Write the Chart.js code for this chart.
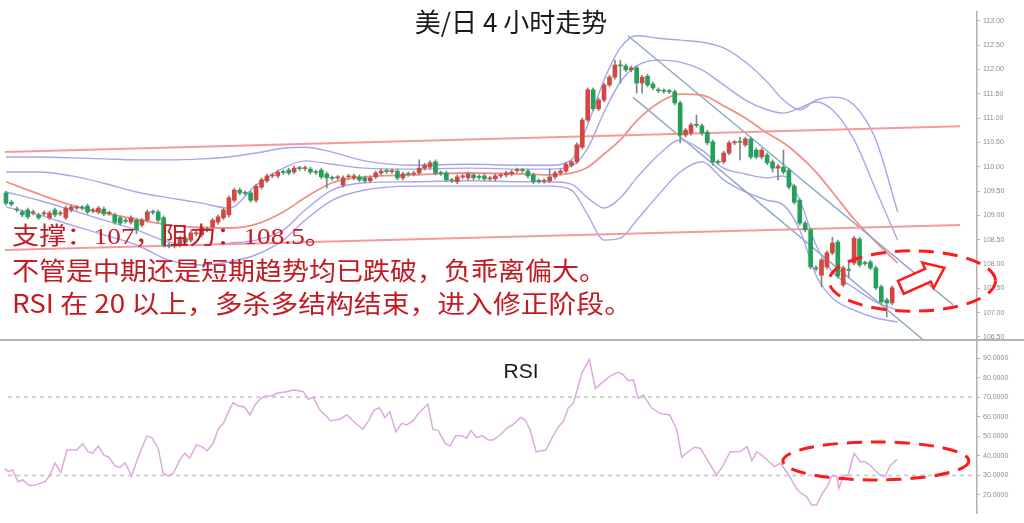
<!DOCTYPE html>
<html>
<head>
<meta charset="utf-8">
<script src="https://cdn.jsdelivr.net/npm/chart.js@4.4.1/dist/chart.umd.min.js"></script>
<style>
html, body { margin: 0; padding: 0; background: #ffffff; }
#wrap { position: relative; width: 1024px; height: 523px; overflow: hidden; }
.pane { position: absolute; left: 0; width: 1024px; }
</style>
</head>
<body>
<div id="wrap">
  <div class="pane" style="top:0;height:341px"><canvas id="chart-price"></canvas></div>
  <div class="pane" style="top:341px;height:182px"><canvas id="chart-rsi"></canvas></div>
</div>
<script>
/**
 * USD/JPY 4h chart - candles, bands, RSI
 */
const opens = [109.46,109.27,109.13,109.07,109.11,109.05,109.01,109.03,108.95,109.11,109.03,108.95,109.11,109.15,109.16,109.19,109.09,109.07,109.13,109.04,
  109.01,108.95,108.90,108.86,108.90,108.80,108.90,109.07,109.07,108.95,108.39,108.37,108.39,108.53,108.49,108.62,108.60,108.72,108.76,108.86,
  108.95,109.01,109.31,109.52,109.46,109.46,109.31,109.58,109.71,109.81,109.81,109.89,109.93,109.89,109.97,109.96,109.95,109.89,109.93,109.85,
  109.77,109.77,109.62,109.79,109.77,109.79,109.77,109.71,109.79,109.87,109.91,109.90,109.91,109.77,109.85,109.85,109.87,109.97,109.99,110.10,
  109.87,109.87,109.72,109.69,109.79,109.77,109.83,109.79,109.81,109.75,109.75,109.81,109.83,109.85,109.92,109.93,109.91,109.83,109.71,109.70,
  109.71,109.79,109.87,109.91,110.03,110.10,110.40,110.96,111.58,111.19,111.37,111.68,111.84,112.09,112.07,111.99,112.03,111.72,111.86,111.70,
  111.58,111.56,111.55,111.54,111.31,110.65,110.69,110.86,110.84,110.71,110.51,110.10,110.10,110.28,110.49,110.51,110.45,110.57,110.34,110.20,
  110.24,110.10,109.97,109.99,109.93,109.60,109.31,108.84,108.70,107.92,107.77,107.94,108.23,108.45,107.57,107.88,108.02,108.51,108.02,108.04,
  107.92,107.53,107.26,107.20];
const closes = [109.25,109.23,109.11,109.01,108.97,109.07,108.95,109.05,109.05,109.01,109.05,109.15,109.17,109.16,109.15,109.07,109.11,109.15,109.03,109.05,
  108.86,108.84,108.88,108.95,108.70,108.90,109.07,109.06,108.90,108.39,108.37,108.39,108.53,108.45,108.64,108.64,108.74,108.70,108.90,108.97,
  109.11,109.36,109.52,109.46,109.45,109.31,109.60,109.73,109.81,109.83,109.89,109.88,109.87,109.97,109.96,109.97,109.89,109.88,109.79,109.77,
  109.76,109.78,109.77,109.80,109.81,109.73,109.71,109.77,109.87,109.91,109.90,109.91,109.77,109.85,109.84,109.87,109.97,110.03,110.08,109.87,
  109.86,109.73,109.71,109.79,109.80,109.85,109.77,109.78,109.75,109.76,109.81,109.83,109.87,109.89,109.93,109.92,109.81,109.69,109.70,109.71,
  109.79,109.87,109.91,110.05,110.10,110.45,110.96,111.58,111.19,111.37,111.68,111.84,112.09,112.07,111.99,112.03,111.72,111.84,111.68,111.62,
  111.56,111.55,111.54,111.31,110.65,110.75,110.86,110.85,110.69,110.49,110.10,110.09,110.28,110.49,110.50,110.50,110.57,110.20,110.20,110.34,
  110.08,109.97,110.01,109.89,109.58,109.27,108.84,108.70,107.94,107.90,108.08,108.23,108.43,107.75,107.92,107.87,108.53,107.98,108.01,107.92,
  107.51,107.22,107.20,107.51];
const highs = [109.50,109.31,109.17,109.11,109.15,109.11,109.05,109.09,109.09,109.15,109.09,109.19,109.21,109.20,109.20,109.23,109.15,109.19,109.17,109.09,
  109.05,108.99,108.94,108.99,108.94,108.94,109.11,109.11,109.11,108.99,108.43,108.43,108.57,108.57,108.68,108.68,108.78,108.76,108.94,109.01,
  109.15,109.40,109.56,109.56,109.50,109.50,109.64,109.77,109.85,109.87,109.93,109.93,109.97,110.01,110.01,110.01,109.99,109.93,109.97,109.89,
  109.81,109.82,109.81,109.84,109.85,109.83,109.81,109.81,109.91,109.95,109.95,109.95,109.95,109.89,109.89,109.91,110.14,110.07,110.12,110.14,
  109.91,109.91,109.76,109.83,109.84,109.89,109.87,109.83,109.85,109.80,109.85,109.87,109.91,109.93,109.97,109.97,109.95,109.87,109.75,109.75,
  109.95,109.91,109.95,110.09,110.14,110.49,111.00,111.62,111.62,111.41,111.72,111.88,112.19,112.19,112.11,112.07,112.07,111.88,111.90,111.74,
  111.62,111.60,111.59,111.58,111.35,110.79,110.90,111.06,110.88,110.75,110.55,110.14,110.32,110.53,110.54,110.61,110.61,110.61,110.38,110.38,
  110.28,110.14,110.05,110.34,109.97,109.64,109.35,108.88,108.74,107.96,108.12,108.27,108.55,108.49,107.96,108.02,108.57,108.55,108.06,108.08,
  107.96,107.57,107.30,107.55];
const lows = [109.21,109.19,109.07,108.97,108.93,109.01,108.91,108.99,108.91,108.97,108.99,108.91,109.07,109.11,109.11,109.03,109.05,109.03,108.99,109.00,
  108.82,108.80,108.84,108.82,108.62,108.76,108.86,109.02,108.86,108.35,108.33,108.33,108.35,108.41,108.45,108.58,108.56,108.66,108.72,108.82,
  108.91,108.97,109.27,109.42,109.41,109.27,109.27,109.54,109.67,109.77,109.77,109.84,109.83,109.85,109.92,109.92,109.85,109.84,109.75,109.56,
  109.72,109.73,109.58,109.75,109.73,109.69,109.67,109.67,109.75,109.83,109.86,109.86,109.73,109.73,109.80,109.81,109.83,109.93,109.95,109.83,
  109.82,109.69,109.67,109.65,109.75,109.73,109.73,109.74,109.71,109.71,109.71,109.77,109.79,109.81,109.88,109.88,109.77,109.65,109.66,109.66,
  109.67,109.75,109.83,109.87,109.99,110.06,110.36,110.92,111.15,111.15,111.33,111.64,111.80,111.72,111.95,111.95,111.51,111.51,111.64,111.58,
  111.52,111.51,111.50,111.27,110.49,110.61,110.65,110.81,110.65,110.45,110.03,110.05,110.06,110.24,110.45,110.14,110.41,110.16,110.16,110.16,
  110.04,109.89,109.73,109.85,109.54,109.23,108.80,108.66,107.90,107.86,107.53,107.90,108.19,107.71,107.53,107.73,107.98,107.94,107.97,107.88,
  107.47,107.18,106.91,107.16];

// bands: shared candle positions, outer/inner upper, middle average, inner/outer lower
const bandIdx = [0, 6, 12, 18, 24, 30, 36, 41, 46, 51, 55, 60, 66, 75, 85, 95, 100, 104, 107, 110, 113, 116, 120, 124, 128, 132, 136, 140, 143, 146, 149, 152, 156, 160, 164];
const upperOuter = [110.20,110.20,110.18,110.16,110.14,110.14,110.16,110.20,110.28,110.38,110.40,110.30,110.12,110.03,110.05,110.03,110.03,110.14,110.86,111.78,
  112.44,112.69,112.64,112.60,112.56,112.44,112.15,111.74,111.37,111.17,111.37,111.43,111.27,110.55,109.07];
const upperInner = [109.89,109.89,109.81,109.66,109.48,109.36,109.25,109.15,109.62,109.97,110.12,110.05,109.97,109.95,109.97,109.95,109.95,110.01,110.38,111.12,
  111.74,112.07,112.19,112.15,111.99,111.68,111.37,111.17,111.10,111.21,111.33,111.17,110.55,109.52,108.49];
const midAvg = [109.69,109.44,109.21,109.05,108.92,108.80,108.75,108.74,108.82,109.07,109.36,109.67,109.79,109.83,109.87,109.85,109.83,109.87,109.99,110.26,
  110.55,110.94,111.31,111.49,111.47,111.25,111.00,110.69,110.49,110.22,109.89,109.48,108.92,108.45,108.02];
const lowerInner = [109.48,109.31,109.11,108.90,108.70,108.45,108.39,108.43,108.49,108.70,109.11,109.52,109.67,109.69,109.71,109.69,109.69,109.64,109.36,109.15,
  109.36,109.77,110.24,110.55,110.34,109.97,109.85,109.77,109.81,109.31,108.39,107.84,107.51,107.22,107.05];
const lowerOuter = [109.17,109.01,108.80,108.60,108.39,108.08,107.98,108.04,108.19,108.49,108.90,109.31,109.52,109.60,109.60,109.60,109.60,109.52,109.01,108.49,
  108.53,108.90,109.42,109.89,110.10,109.73,109.48,109.31,109.21,108.70,107.77,107.30,107.05,106.89,106.81];

// trend lines, each [start, end]
const channelIdx = [-0.2, 175.5];
const channelTop = [110.30, 110.83];
const channelBottom = [108.29, 108.80];
const downTopIdx = [114.4, 174.2];
const downTopVal = [112.69, 107.16];
const downLowIdx = [115.3, 168.7];
const downLowVal = [111.43, 106.44];

const rsiIdx = [-0.2,0.4,1.2,2.2,3.1,4.1,5.0,7.2,8.1,9.0,10.1,11.2,13.0,14.1,15.1,15.9,17.0,18.0,18.9,20.1,
  21.0,21.9,23.1,24.3,25.9,26.8,28.0,28.9,29.9,30.8,32.0,32.9,33.8,35.0,36.0,37.0,38.1,39.1,40.0,41.2,
  41.8,42.7,43.8,44.9,45.8,46.7,47.6,48.9,49.8,51.6,52.9,53.8,54.7,55.6,56.5,57.8,58.7,59.7,61.4,62.7,
  64.2,65.6,66.6,67.7,68.7,69.7,70.6,71.7,72.8,73.7,74.9,75.8,77.6,78.5,79.5,80.8,81.7,82.7,83.8,84.7,
  85.5,86.6,87.6,88.7,89.6,90.9,92.1,93.3,94.7,95.5,96.4,97.5,99.3,100.4,101.6,102.5,103.4,104.4,105.9,107.3,
  108.4,109.9,111.1,112.5,113.4,114.5,115.4,116.3,117.2,118.8,120.3,122.1,123.4,124.3,125.5,126.6,127.7,129.2,130.7,131.8,
  133.2,135.0,136.3,137.2,138.1,139.0,141.3,142.4,143.6,144.5,145.5,146.4,147.3,148.2,149.1,150.1,151.0,151.9,152.8,153.2,
  154.0,154.9,156.0,157.1,158.0,158.9,159.9,160.8,161.7,162.6,163.9];
const rsiVal = [33.6,31.9,32.8,26.8,27.7,25.1,24.8,26.8,30.2,36.4,31.4,43.0,43.0,46.1,42.1,41.3,45.0,40.4,39.3,34.8,
  34.2,36.5,29.7,39.3,50.1,49.3,43.9,31.1,29.7,31.1,38.2,41.3,38.8,45.6,44.7,42.6,46.4,54.1,56.6,64.3,
  67.2,65.5,65.1,60.9,66.0,68.9,70.6,70.6,72.0,72.8,73.7,73.3,72.8,68.9,69.9,63.1,60.9,58.0,58.7,60.9,
  56.9,53.7,57.5,63.4,64.6,59.5,62.6,52.3,56.6,55.8,58.0,61.4,66.5,53.6,52.9,46.4,45.0,50.3,50.3,49.0,
  52.9,49.3,50.3,48.1,48.1,50.7,54.1,56.1,59.7,58.3,53.2,42.1,43.0,49.0,54.9,57.5,64.3,67.2,82.2,89.3,
  74.5,77.9,80.8,82.7,81.7,78.4,78.8,69.4,71.1,64.3,61.7,60.9,53.2,39.3,42.1,44.4,43.9,37.0,30.2,34.5,
  42.1,42.1,44.7,37.5,42.1,40.4,34.5,36.2,31.9,27.7,22.9,20.5,19.1,14.9,14.9,20.5,24.2,29.7,29.4,23.4,
  29.7,30.2,41.3,37.0,37.0,35.3,32.4,30.2,29.4,34.8,38.2];
const rsiLevels = [70, 30];
const rsiLevelIdx = [0.4, 178.2];

const titleText = '美/日 4 小时走势';
const noteLines = ['支撑：107，阻力：108.5。', '不管是中期还是短期趋势均已跌破，负乖离偏大。', 'RSI 在 20 以上，多杀多结构结束，进入修正阶段。'];

const colors = {
    up: '#d4463f',
    down: '#23a15b',
    wick: '#7d8a80',
    band: '#a9a4ee',
    avg: '#f29088',
    channel: '#f59a9a',
    trend: '#8eaac2',
    rsi: '#dcaade',
    level: '#cfcfcf',
    axis: '#b0b0b0',
    tick: '#8c8c8c',
    note: '#c41a22',
    mark: '#ff1a1a'
};

const xMin = -1.1, xMax = 178.6;

const pts = (xs, ys) => xs.map((x, i) => ({ x: x, y: ys[i] }));
const candleIdx = opens.map((_, i) => i);
const candleColors = opens.map((o, i) => closes[i] >= o ? colors.up : colors.down);

function bandSet(data, color, width) {
    return {
        type: 'line', data: data, borderColor: color, borderWidth: width,
        pointRadius: 0, cubicInterpolationMode: 'monotone', fill: false, order: 3
    };
}
function straight(data, color, width, dash) {
    return {
        type: 'line', data: data, borderColor: color, borderWidth: width,
        pointRadius: 0, tension: 0, fill: false, order: 2, borderDash: dash || []
    };
}

function rightAxis(min, max, step, digits) {
    return {
        position: 'right', min: min, max: max,
        // fixed width, no extra label padding so the plot area is exact
        afterFit: s => { s.width = 47; s.paddingTop = 0; s.paddingBottom = 0; },
        border: { color: colors.axis, width: 1.5 },
        grid: { drawOnChartArea: false, drawTicks: true, tickLength: 3, color: colors.axis },
        ticks: {
            stepSize: step, includeBounds: false, padding: 3,
            color: colors.tick, font: { family: "'Liberation Sans', Arial, sans-serif", size: 7 },
            callback: v => Number(v).toFixed(digits)
        }
    };
}

function drawEllipse(ctx, cx, cy, rx, ry) {
    ctx.save();
    ctx.strokeStyle = colors.mark;
    ctx.lineWidth = 3;
    ctx.setLineDash([15, 9]);
    ctx.beginPath();
    ctx.ellipse(cx, cy, rx, ry, 0, 0, Math.PI * 2);
    ctx.stroke();
    ctx.restore();
}

function fitText(ctx, text, x, y, width) {
    const w = ctx.measureText(text).width;
    ctx.save();
    ctx.translate(x, y);
    ctx.scale(width / w, 1);
    ctx.fillText(text, 0, 0);
    ctx.restore();
}

const priceDecor = {
    id: 'priceDecor',
    afterDraw(chart) {
        const ctx = chart.ctx;
        const xs = chart.scales.x, ys = chart.scales.y;
        // separator
        ctx.save();
        ctx.strokeStyle = '#b4b4b4';
        ctx.lineWidth = 2;
        ctx.beginPath(); ctx.moveTo(0, 340); ctx.lineTo(1024, 340); ctx.stroke();
        // title
        ctx.fillStyle = '#1a1a1a';
        ctx.font = "26px 'Noto Sans CJK SC', sans-serif";
        ctx.textAlign = 'center'; ctx.textBaseline = 'middle';
        ctx.fillText(titleText, 511, 22);
        // notes
        ctx.fillStyle = colors.note;
        ctx.textAlign = 'left';
        ctx.font = "24px 'Liberation Serif', 'Noto Sans CJK SC', serif";
        fitText(ctx, noteLines[0], 12, 238, 320);
        ctx.font = "25px 'Noto Sans CJK SC', sans-serif";
        fitText(ctx, noteLines[1], 12, 270, 594);
        fitText(ctx, noteLines[2], 12, 303, 620);
        ctx.restore();
        // ellipse + arrow
        const cx = xs.getPixelForValue(166.7), cy = ys.getPixelForValue(107.65);
        const rx = xs.getPixelForValue(166.7 + 15.3) - cx;
        const ry = cy - ys.getPixelForValue(107.65 + 0.62);
        drawEllipse(ctx, cx, cy, rx, ry);
        const tx = xs.getPixelForValue(164.6), ty = ys.getPixelForValue(107.52);
        const hx = xs.getPixelForValue(172.6), hy = ys.getPixelForValue(107.92);
        const ang = Math.atan2(hy - ty, hx - tx);
        const len = Math.hypot(hx - tx, hy - ty);
        ctx.save();
        ctx.translate(tx, ty);
        ctx.rotate(ang);
        ctx.beginPath();
        ctx.moveTo(0, -7); ctx.lineTo(len - 18, -7); ctx.lineTo(len - 18, -14);
        ctx.lineTo(len, 0); ctx.lineTo(len - 18, 14); ctx.lineTo(len - 18, 7);
        ctx.lineTo(0, 7); ctx.closePath();
        ctx.fillStyle = '#ffffff'; ctx.fill();
        ctx.strokeStyle = colors.mark; ctx.lineWidth = 2.5; ctx.stroke();
        ctx.restore();
    }
};

const rsiDecor = {
    id: 'rsiDecor',
    afterDraw(chart) {
        const ctx = chart.ctx;
        const xs = chart.scales.x, ys = chart.scales.y;
        ctx.save();
        ctx.fillStyle = '#1a1a1a';
        ctx.font = "21px 'Liberation Sans', Arial, sans-serif";
        ctx.textAlign = 'center'; ctx.textBaseline = 'middle';
        ctx.fillText('RSI', 521, 31);
        ctx.restore();
        const cx = xs.getPixelForValue(160.0), cy = ys.getPixelForValue(37.4);
        const rx = xs.getPixelForValue(160.0 + 17.1) - cx;
        const ry = cy - ys.getPixelForValue(37.4 + 9.7);
        drawEllipse(ctx, cx, cy, rx, ry);
    }
};

new Chart(document.getElementById('chart-price'), {
    type: 'bar',
    data: {
        datasets: [
            {
                data: candleIdx.map(i => ({ x: i, y: [opens[i], closes[i]] })),
                backgroundColor: candleColors, borderWidth: 0,
                barThickness: 4, minBarLength: 1, grouped: false, order: 0
            },
            {
                data: candleIdx.map(i => ({ x: i, y: [lows[i], highs[i]] })),
                backgroundColor: colors.wick, borderWidth: 0,
                barThickness: 1, grouped: false, order: 1
            },
            bandSet(pts(bandIdx, upperOuter), colors.band, 1.4),
            bandSet(pts(bandIdx, upperInner), colors.band, 1.4),
            bandSet(pts(bandIdx, midAvg), colors.avg, 1.8),
            bandSet(pts(bandIdx, lowerInner), colors.band, 1.4),
            bandSet(pts(bandIdx, lowerOuter), colors.band, 1.4),
            straight(pts(channelIdx, channelTop), colors.channel, 2),
            straight(pts(channelIdx, channelBottom), colors.channel, 2),
            straight(pts(downTopIdx, downTopVal), colors.trend, 1.4),
            straight(pts(downLowIdx, downLowVal), colors.trend, 1.4)
        ]
    },
    options: {
        responsive: true,
        maintainAspectRatio: false,
        animation: false,
        layout: { padding: { top: 12, bottom: 1, left: 0, right: 0 } },
        plugins: { legend: { display: false }, tooltip: { enabled: false } },
        scales: {
            x: { type: 'linear', min: xMin, max: xMax, offset: false, display: false },
            y: rightAxis(106.438, 113.179, 0.5, 2)
        }
    },
    plugins: [priceDecor]
});

new Chart(document.getElementById('chart-rsi'), {
    type: 'line',
    data: {
        datasets: [
            {
                data: pts(rsiIdx, rsiVal), borderColor: colors.rsi, borderWidth: 1.5,
                pointRadius: 0, tension: 0, fill: false, order: 0
            },
            straight(pts(rsiLevelIdx, [rsiLevels[0], rsiLevels[0]]), colors.level, 2, [4, 4]),
            straight(pts(rsiLevelIdx, [rsiLevels[1], rsiLevels[1]]), colors.level, 2, [4, 4])
        ]
    },
    options: {
        responsive: true,
        maintainAspectRatio: false,
        animation: false,
        layout: { padding: { top: 0, bottom: 10, left: 0, right: 0 } },
        plugins: { legend: { display: false }, tooltip: { enabled: false } },
        scales: {
            x: { type: 'linear', min: xMin, max: xMax, offset: false, display: false },
            y: rightAxis(10.80, 98.69, 10, 4)
        }
    },
    plugins: [rsiDecor]
});
</script>
</body>
</html>
